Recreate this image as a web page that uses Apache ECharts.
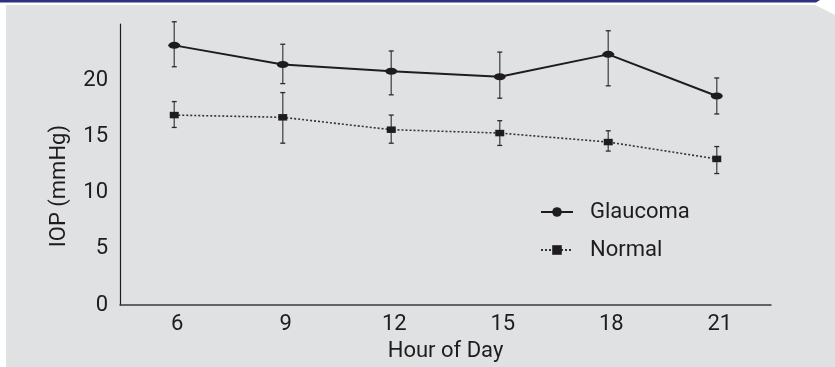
<!DOCTYPE html>
<html>
<head>
<meta charset="utf-8">
<script src="https://cdn.jsdelivr.net/npm/echarts@6/dist/echarts.min.js"></script>
<style>
html,body{margin:0;padding:0;background:#fff;}
#chart{width:835px;height:367px;}
</style>
</head>
<body>
<div id="chart"></div>
<script>
var hours = ['6', '9', '12', '15', '18', '21'];
var glaucomaMean = [23.1, 21.4, 20.8, 20.3, 22.3, 18.6];
var glaucomaUpper = [25.2, 23.2, 22.6, 22.5, 24.4, 20.2];
var glaucomaLower = [21.2, 19.7, 18.7, 18.4, 19.5, 17.0];
var normalMean = [16.9, 16.7, 15.6, 15.3, 14.5, 13.0];
var normalUpper = [18.1, 18.9, 16.9, 16.4, 15.5, 14.1];
var normalLower = [15.8, 14.4, 14.4, 14.2, 13.7, 11.7];
var yTicks = [0, 5, 10, 15, 20];

var FONT = "Roboto, 'Liberation Sans', sans-serif";
var INK = '#1f1c1d';
var FS = 22;

function errData(upper, lower) {
  return hours.map(function (h, i) { return [i, lower[i], upper[i]]; });
}
function errRender(params, api) {
  var x = api.value(0);
  var lo = api.coord([x, api.value(1)]);
  var hi = api.coord([x, api.value(2)]);
  var cap = 2.5;
  var st = { stroke: '#5c5d60', lineWidth: 1.5 };
  var capSt = { stroke: '#2a2a2a', lineWidth: 1.3 };
  return {
    type: 'group',
    children: [
      { type: 'line', shape: { x1: lo[0], y1: lo[1], x2: hi[0], y2: hi[1] }, style: st },
      { type: 'line', shape: { x1: hi[0] - cap, y1: hi[1], x2: hi[0] + cap, y2: hi[1] }, style: capSt },
      { type: 'line', shape: { x1: lo[0] - cap, y1: lo[1], x2: lo[0] + cap, y2: lo[1] }, style: capSt }
    ]
  };
}

var chart = echarts.init(document.getElementById('chart'), null, { renderer: 'canvas' });
chart.setOption({
  animation: false,
  backgroundColor: '#ffffff',
  textStyle: { fontFamily: FONT },
  graphic: [
    { type: 'polygon', z: -10, silent: true,
      shape: { points: [[6, 5], [815, 5], [835, 15], [835, 367], [6, 367]] },
      style: { fill: '#e0e1e3' } },
    { type: 'polygon', z: -10, silent: true,
      shape: { points: [[0, 0], [820, 0], [816, 2.5], [0, 2.5]] },
      style: { fill: '#2e3182' } }
  ],
  grid: { left: 120, right: 64, top: 24, bottom: 60, containLabel: false },
  legend: {
    orient: 'vertical',
    left: 540,
    top: 200,
    padding: 0,
    itemWidth: 32,
    itemHeight: 12,
    itemGap: 14,
    data: ['Glaucoma', 'Normal'],
    textStyle: { fontFamily: FONT, fontSize: FS, color: INK, lineHeight: 24, padding: [0, 0, 0, 12] }
  },
  xAxis: {
    type: 'category',
    data: hours,
    boundaryGap: true,
    name: 'Hour of Day',
    nameLocation: 'middle',
    nameGap: 33,
    nameTextStyle: { fontFamily: FONT, fontSize: FS, color: INK },
    axisLine: { lineStyle: { color: '#3a3a3c', width: 1.5 } },
    axisTick: { show: false },
    axisLabel: { fontFamily: FONT, fontSize: FS, color: INK, margin: 8, padding: [0, 0, 0, 6] },
    splitLine: { show: false }
  },
  yAxis: {
    type: 'value',
    min: 0,
    max: 25,
    interval: 5,
    name: 'IOP (mmHg)',
    nameLocation: 'middle',
    nameGap: 50,
    nameTextStyle: { fontFamily: FONT, fontSize: FS, color: INK, padding: [0, 43, 0, 0] },
    axisLine: { show: true, lineStyle: { color: INK, width: 1.2 } },
    axisTick: { show: false },
    splitLine: { show: false },
    axisLabel: {
      fontFamily: FONT, fontSize: FS, color: INK, margin: 12,
      formatter: function (v) { return yTicks.indexOf(v) >= 0 ? String(v) : ''; }
    }
  },
  series: [
    { type: 'custom', name: 'errG', renderItem: errRender, data: errData(glaucomaUpper, glaucomaLower), z: 1, silent: true },
    { type: 'custom', name: 'errN', renderItem: errRender, data: errData(normalUpper, normalLower), z: 1, silent: true },
    {
      type: 'line', name: 'Glaucoma', data: glaucomaMean, z: 3,
      symbol: 'circle', symbolSize: [12, 7],
      itemStyle: { color: INK },
      lineStyle: { color: INK, width: 2 }
    },
    {
      type: 'line', name: 'Normal', data: normalMean, z: 3,
      symbol: 'rect', symbolSize: [9, 6.5],
      itemStyle: { color: INK },
      lineStyle: { color: '#333', width: 1.6, type: [2, 2] }
    }
  ]
});
</script>
</body>
</html>
